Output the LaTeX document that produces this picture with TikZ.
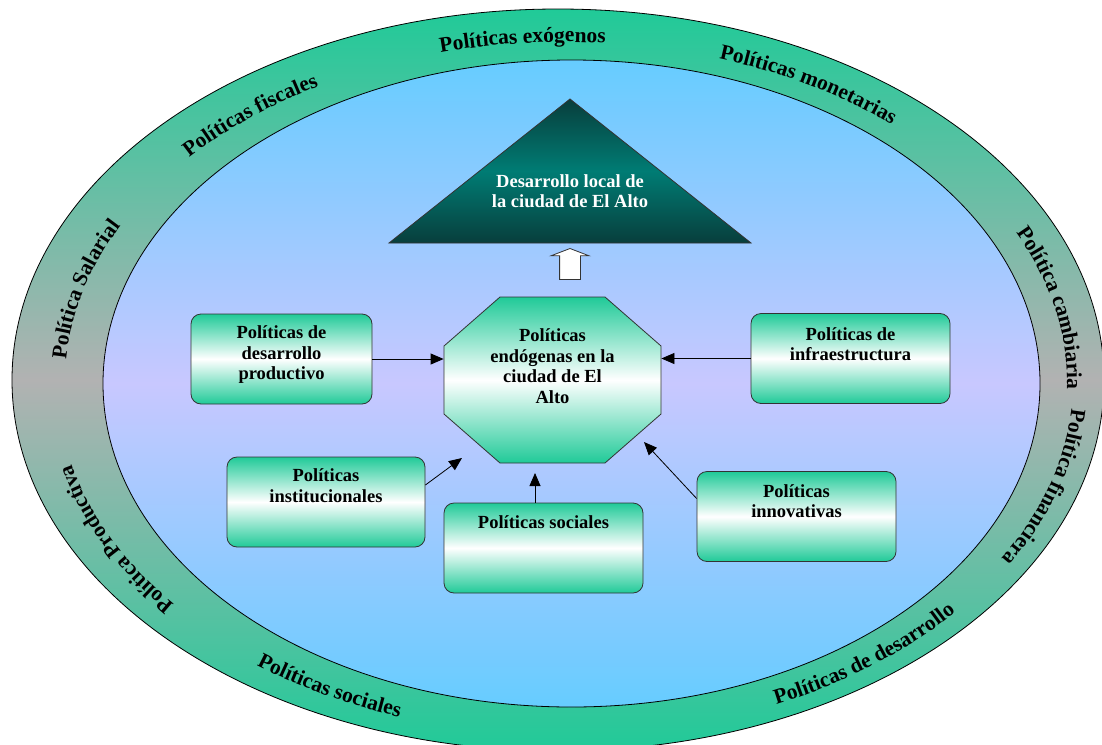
\documentclass[tikz,border=0pt]{standalone}
\usepackage{fontspec}
\setmainfont{Liberation Serif}
\usetikzlibrary{arrows.meta}
\usetikzlibrary{shapes.arrows}
\usetikzlibrary{decorations.text}

\definecolor{ringgreen}{RGB}{32,202,152}
\definecolor{ringgray}{RGB}{178,178,178}
\definecolor{skyblue}{RGB}{102,204,255}
\definecolor{lavender}{RGB}{200,200,255}
\definecolor{boxgreen}{RGB}{32,202,152}
\definecolor{petrol}{RGB}{0,124,116}
\definecolor{petroldark}{RGB}{8,62,60}

\newcommand{\ringfont}{\fontsize{21.5}{25}\selectfont\bfseries}
\newcommand{\boxfont}{\fontsize{18.5}{20.5}\selectfont\bfseries}
% Text oben im Kasten: [Abstand]{Breite}{Hoehe}{Text}
\newcommand{\boxlabel}[4][12pt]{\parbox[c][#3][t]{#2}{\centering\vspace*{#1}#4}}

\tikzset{
  polbox/.style={draw=black!80, rounded corners=10pt, top color=boxgreen,
    bottom color=boxgreen, middle color=white, inner sep=0pt, font=\boxfont},
  ringlabel/.style={decorate, decoration={text along path, text align=center,
    text={|\ringfont|#1}}}
}

\begin{document}
\begin{tikzpicture}[x=1pt, y=-1pt, line width=0.8pt, >={Triangle[length=13pt,width=11pt]}]
\useasboundingbox (0,0) rectangle (1102,744);
% aeusserer Ring und innere Flaeche
\draw[top color=ringgreen, bottom color=ringgreen, middle color=ringgray] (558,380) ellipse [x radius=546, y radius=371];
\draw[top color=skyblue, bottom color=skyblue, middle color=lavender] (571.5,383.5) ellipse [x radius=468.5, y radius=323.5];

% Beschriftung im Ring (im Uhrzeigersinn: Kopf nach aussen)
\path[ringlabel={Políticas exógenos}] ([shift={(245:500 and 340)}]565,382) arc[start angle=245, end angle=285, x radius=500, y radius=340];
\path[ringlabel={Políticas fiscales}] ([shift={(210:500 and 340)}]565,382) arc[start angle=210, end angle=250, x radius=500, y radius=340];
\path[ringlabel={Políticas monetarias}] ([shift={(280:500 and 340)}]565,382) arc[start angle=280, end angle=320, x radius=500, y radius=340];
\path[ringlabel={Política Salarial}] ([shift={(175:500 and 340)}]565,382) arc[start angle=175, end angle=215, x radius=500, y radius=340];
\path[ringlabel={Política cambiaria}] ([shift={(328:502 and 340)}]565,382) arc[start angle=328, end angle=368, x radius=502, y radius=340];
\path[ringlabel={Política financiera}] ([shift={(-3:508 and 346)}]565,382) arc[start angle=-3, end angle=37, x radius=508, y radius=346];
\path[ringlabel={Política Productiva}] ([shift={(134:508 and 348)}]565,382) arc[start angle=134, end angle=174, x radius=508, y radius=348];
% unten gegen den Uhrzeigersinn
\path[ringlabel={Políticas de desarrollo}] ([shift={(72.5:514 and 354)}]565,382) arc[start angle=72.5, end angle=32.5, x radius=514, y radius=354];
\path[ringlabel={Políticas sociales}] ([shift={(138.5:514 and 354)}]565,382) arc[start angle=138.5, end angle=98.5, x radius=514, y radius=354];

% Dreieck mit Ziel
\shade[draw=black!80, top color=petroldark, bottom color=petroldark, middle color=petrol] (570,99) -- (389,243) -- (751,243) -- cycle;
\node[font=\boxfont, text=white, align=center, inner sep=0pt] (goal) at (570,191) {Desarrollo local de\\la ciudad de El Alto};
\node[single arrow, draw=black!80, fill=white, shape border rotate=90, minimum height=31pt, inner sep=10pt,
  single arrow head extend=8.5pt, single arrow tip angle=138, single arrow head indent=0pt] (lift) at (570,266) {};

% Achteck in der Mitte
\shade[draw=black!80, top color=boxgreen, bottom color=boxgreen, middle color=white]
  (500,297) -- (605,297) -- (661,346) -- (661,414) -- (605,463) -- (500,463) -- (444,414) -- (444,346) -- cycle;
\node[font=\boxfont, minimum width=217pt, minimum height=166pt, inner sep=0pt] (endo) at (552.5,380)
  {\boxlabel[32pt]{200pt}{166pt}{Políticas\\endógenas en la\\ciudad de El\\Alto}};

% Kaesten
\node[polbox] (prod) at (281.5,359) {\boxlabel{181pt}{90pt}{Políticas de\\desarrollo\\productivo}};
\node[polbox] (inst) at (326,502) {\boxlabel{198pt}{90pt}{Políticas\\institucionales}};
\node[polbox] (soc) at (543.5,548) {\boxlabel[13pt]{199pt}{90pt}{Políticas sociales}};
\node[polbox] (innov) at (796.5,516.5) {\boxlabel[13pt]{199pt}{90pt}{Políticas\\innovativas}};
\node[polbox] (infra) at (850.5,358.5) {\boxlabel[14pt]{199pt}{90pt}{Políticas de\\infraestructura}};

% Pfeile zum Achteck
\coordinate (instend) at (462,458);
\coordinate (socend) at (535,473);
\coordinate (innovend) at (644,442);
\draw[->] (prod.east) -- (prod.east -| endo.west);
\draw[->] (infra.west) -- (infra.west -| endo.east);
\draw[->] ([yshift=17pt]inst.east) -- (instend);
\draw[->] (soc.north -| socend) -- (socend);
\draw[->] ([yshift=18pt]innov.west) -- (innovend);
\end{tikzpicture}
\end{document}
